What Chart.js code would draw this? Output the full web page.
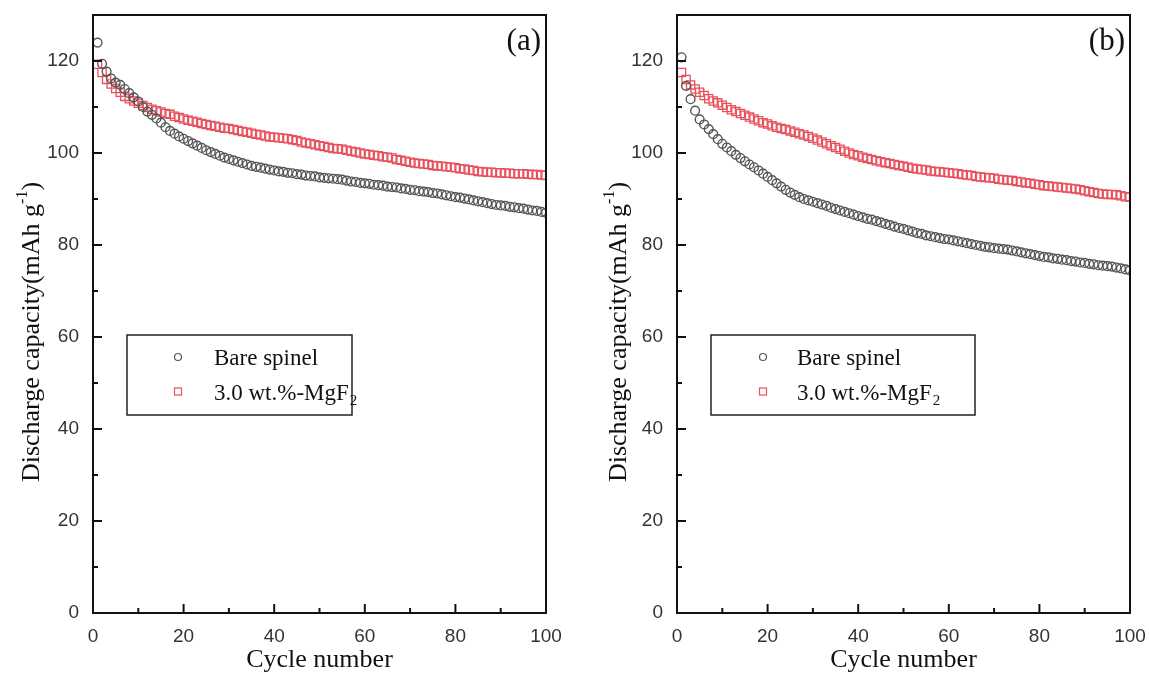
<!DOCTYPE html>
<html>
<head>
<meta charset="utf-8">
<script src="https://cdn.jsdelivr.net/npm/chart.js@4"></script>
<style>
  body { margin: 0; background: #fff; overflow: hidden; }
  #wrap { position: relative; width: 1149px; height: 676px; }
  canvas { position: absolute; top: 0; }
</style>
</head>
<body>
<div id="wrap">
  <canvas id="chartA" width="570" height="676" style="left:0"></canvas>
  <canvas id="chartB" width="565" height="676" style="left:584px"></canvas>
</div>
<script>
// cycle numbers (x)
const cycles = [1,2,3,4,5,6,7,8,9,10,11,12,13,14,15,16,17,18,19,20,
  21,22,23,24,25,26,27,28,29,30,31,32,33,34,35,36,37,38,39,40,
  41,42,43,44,45,46,47,48,49,50,51,52,53,54,55,56,57,58,59,60,
  61,62,63,64,65,66,67,68,69,70,71,72,73,74,75,76,77,78,79,80,
  81,82,83,84,85,86,87,88,89,90,91,92,93,94,95,96,97,98,99,100];

// panel (a)
const bareA = [124.0,119.4,117.7,116.2,115.3,114.8,113.9,113.0,112.1,111.2,
  110.0,109.0,108.3,107.5,106.6,105.6,104.8,104.2,103.6,103.1,
  102.6,102.1,101.6,101.1,100.6,100.2,99.8,99.4,99.0,98.7,
  98.4,98.1,97.8,97.5,97.2,97.0,96.8,96.6,96.4,96.2,
  96.0,95.9,95.7,95.6,95.4,95.3,95.1,95.0,94.9,94.7,
  94.6,94.5,94.4,94.3,94.2,94.0,93.8,93.7,93.5,93.4,
  93.3,93.1,93.0,92.9,92.7,92.6,92.5,92.3,92.2,92.0,
  91.9,91.7,91.6,91.5,91.3,91.2,91.0,90.8,90.6,90.4,
  90.3,90.1,89.9,89.7,89.5,89.3,89.1,88.9,88.7,88.6,
  88.5,88.3,88.2,88.0,87.9,87.7,87.5,87.4,87.2,87.0];
const mgA = [119.3,117.5,116.0,115.0,114.0,113.2,112.3,111.8,111.3,110.8,
  110.3,109.9,109.5,109.2,108.9,108.6,108.4,108.0,107.7,107.4,
  107.1,106.9,106.7,106.4,106.2,106.0,105.8,105.6,105.4,105.3,
  105.1,104.9,104.7,104.5,104.3,104.1,103.9,103.7,103.5,103.4,
  103.3,103.2,103.1,102.9,102.7,102.4,102.2,102.0,101.8,101.6,
  101.4,101.2,101.0,100.9,100.8,100.6,100.4,100.2,100.0,99.8,
  99.7,99.5,99.4,99.2,99.1,98.9,98.6,98.4,98.2,98.0,
  97.8,97.7,97.6,97.5,97.3,97.2,97.1,97.0,96.9,96.8,
  96.6,96.5,96.3,96.2,96.0,95.9,95.8,95.8,95.7,95.7,
  95.6,95.6,95.5,95.5,95.5,95.4,95.3,95.3,95.2,95.1];

// panel (b)
const bareB = [120.8,114.6,111.7,109.2,107.3,106.2,105.2,104.1,103.0,102.0,
  101.2,100.4,99.6,98.9,98.2,97.5,96.9,96.2,95.5,94.8,
  94.1,93.4,92.7,92.0,91.4,90.9,90.4,90.0,89.7,89.4,
  89.1,88.8,88.5,88.1,87.8,87.5,87.2,86.9,86.6,86.3,
  86.0,85.7,85.5,85.2,84.9,84.6,84.3,84.0,83.7,83.5,
  83.2,82.9,82.6,82.4,82.1,81.9,81.7,81.5,81.3,81.2,
  81.0,80.8,80.6,80.4,80.2,80.0,79.8,79.6,79.5,79.3,
  79.2,79.1,79.0,78.8,78.6,78.4,78.2,78.0,77.8,77.6,
  77.4,77.3,77.1,77.0,76.8,76.7,76.5,76.4,76.2,76.1,
  75.9,75.8,75.6,75.5,75.4,75.3,75.1,74.9,74.7,74.5];
const mgB = [117.5,116.0,114.8,113.9,113.2,112.5,111.8,111.3,110.9,110.4,
  109.9,109.4,109.0,108.6,108.2,107.8,107.4,107.0,106.6,106.3,
  105.9,105.6,105.3,105.1,104.8,104.5,104.2,103.9,103.6,103.2,
  102.8,102.4,102.0,101.6,101.2,100.8,100.4,100.0,99.7,99.4,
  99.1,98.8,98.6,98.3,98.1,97.9,97.7,97.5,97.3,97.1,
  96.9,96.7,96.5,96.4,96.3,96.1,96.0,95.9,95.8,95.7,
  95.6,95.5,95.3,95.2,95.1,94.9,94.8,94.7,94.6,94.5,
  94.3,94.2,94.1,94.0,93.8,93.7,93.5,93.4,93.2,93.1,
  92.9,92.8,92.7,92.6,92.5,92.4,92.3,92.2,92.0,91.8,
  91.6,91.4,91.2,91.1,91.0,91.0,90.9,90.7,90.5,90.4];

const seriesNames = ['Bare spinel', '3.0 wt.%-MgF'];
const xTicks = [0, 20, 40, 60, 80, 100];
const xMinor = [10, 30, 50, 70, 90];
const yTicks = [0, 20, 40, 60, 80, 100, 120];
const yMinor = [10, 30, 50, 70, 90, 110, 130];

const serif = '"Liberation Serif", "Times New Roman", serif';
const sans = '"Liberation Sans", Arial, sans-serif';
const grey = '#555';
const red = '#e8505b';

function pts(ys) {
  return cycles.map((c, i) => ({ x: c, y: ys[i] }));
}

// frame, inward ticks, y title, panel tag and legend
const decor = {
  id: 'decor',
  afterDraw(chart, args, o) {
    const { ctx, chartArea: a, scales: { x, y } } = chart;
    ctx.save();
    ctx.strokeStyle = '#111';
    ctx.lineWidth = 2;
    ctx.strokeRect(a.left, a.top, a.right - a.left, a.bottom - a.top);
    ctx.beginPath();
    xTicks.forEach(v => { const p = x.getPixelForValue(v); ctx.moveTo(p, a.bottom); ctx.lineTo(p, a.bottom - 9); });
    xMinor.forEach(v => { const p = x.getPixelForValue(v); ctx.moveTo(p, a.bottom); ctx.lineTo(p, a.bottom - 5); });
    yTicks.forEach(v => { const p = y.getPixelForValue(v); ctx.moveTo(a.left, p); ctx.lineTo(a.left + 9, p); });
    yMinor.forEach(v => { const p = y.getPixelForValue(v); ctx.moveTo(a.left, p); ctx.lineTo(a.left + 5, p); });
    ctx.stroke();

    // y axis title with superscript
    ctx.fillStyle = '#111';
    ctx.textBaseline = 'alphabetic';
    ctx.translate(o.titleX, 332);
    ctx.rotate(-Math.PI / 2);
    const big = '26px ' + serif, small = '16px ' + serif;
    const t1 = 'Discharge capacity(mAh g', t2 = '-1', t3 = ')';
    ctx.font = big; const w1 = ctx.measureText(t1).width, w3 = ctx.measureText(t3).width;
    ctx.font = small; const w2 = ctx.measureText(t2).width;
    let sx = -(w1 + w2 + w3) / 2;
    ctx.font = big; ctx.fillText(t1, sx, 9);
    ctx.font = small; ctx.fillText(t2, sx + w1, -3);
    ctx.font = big; ctx.fillText(t3, sx + w1 + w2, 9);
    ctx.setTransform(1, 0, 0, 1, 0, 0);

    // panel tag
    ctx.font = '31px ' + serif;
    ctx.textAlign = 'right';
    ctx.fillText(o.tag, a.right - 5, 50);
    ctx.textAlign = 'left';

    // legend
    const lx = a.left + 34, ly = 335;
    ctx.lineWidth = 1.5;
    ctx.strokeStyle = '#222';
    ctx.strokeRect(lx, ly, o.legendW, 80);
    const mx = lx + o.legendMark, tx = lx + o.legendText;
    ctx.lineWidth = 1.2;
    ctx.strokeStyle = grey;
    ctx.beginPath(); ctx.arc(mx, ly + 22, 3.5, 0, Math.PI * 2); ctx.stroke();
    ctx.strokeStyle = red;
    ctx.strokeRect(mx - 3.5, ly + 53, 7, 7);
    ctx.fillStyle = '#111';
    ctx.font = '23px ' + serif;
    ctx.fillText(seriesNames[0], tx, ly + 30);
    ctx.fillText(seriesNames[1], tx, ly + 65);
    const w = ctx.measureText(seriesNames[1]).width;
    ctx.font = '15px ' + serif;
    ctx.fillText('2', tx + w + 1, ly + 70);
    ctx.restore();
  }
};

function makeChart(id, bare, mg, o) {
  return new Chart(document.getElementById(id), {
    type: 'scatter',
    data: {
      datasets: [
        { label: seriesNames[0], data: pts(bare), pointStyle: 'circle', pointRadius: 4.4,
          borderColor: grey, backgroundColor: 'rgba(0,0,0,0)', borderWidth: 1.4, pointHoverRadius: 4.4 },
        { label: seriesNames[1] + '2', data: pts(mg), pointStyle: 'rect', pointRadius: 5.8,
          borderColor: red, backgroundColor: 'rgba(0,0,0,0)', borderWidth: 1.3, pointHoverRadius: 5.8 }
      ]
    },
    options: {
      responsive: false,
      animation: false,
      layout: { padding: { top: 15, right: o.padRight, left: 0, bottom: 0 } },
      plugins: {
        legend: { display: false },
        tooltip: { enabled: false },
        decor: o
      },
      scales: {
        x: {
          type: 'linear', min: 0, max: 100,
          grid: { display: false, drawTicks: false },
          border: { display: false },
          ticks: { stepSize: 20, padding: 12, color: '#333', font: { family: sans, size: 19 } },
          title: { display: true, text: 'Cycle number', color: '#111', padding: { top: 0, bottom: 0 },
                   font: { family: serif, size: 26 } },
          afterFit: s => { s.height = 63; s.paddingLeft = 0; s.paddingRight = 0; }
        },
        y: {
          min: 0, max: 130,
          grid: { display: false, drawTicks: false },
          border: { display: false },
          ticks: { stepSize: 20, includeBounds: false, padding: 14, color: '#333', font: { family: sans, size: 19 } },
          afterFit: s => { s.width = 93; s.paddingTop = 0; s.paddingBottom = 0; }
        }
      }
    },
    plugins: [decor]
  });
}

makeChart('chartA', bareA, mgA, { tag: '(a)', titleX: 30, padRight: 24, legendW: 225, legendMark: 51, legendText: 87 });
makeChart('chartB', bareB, mgB, { tag: '(b)', titleX: 33, padRight: 19, legendW: 264, legendMark: 52, legendText: 86 });
</script>
</body>
</html>
